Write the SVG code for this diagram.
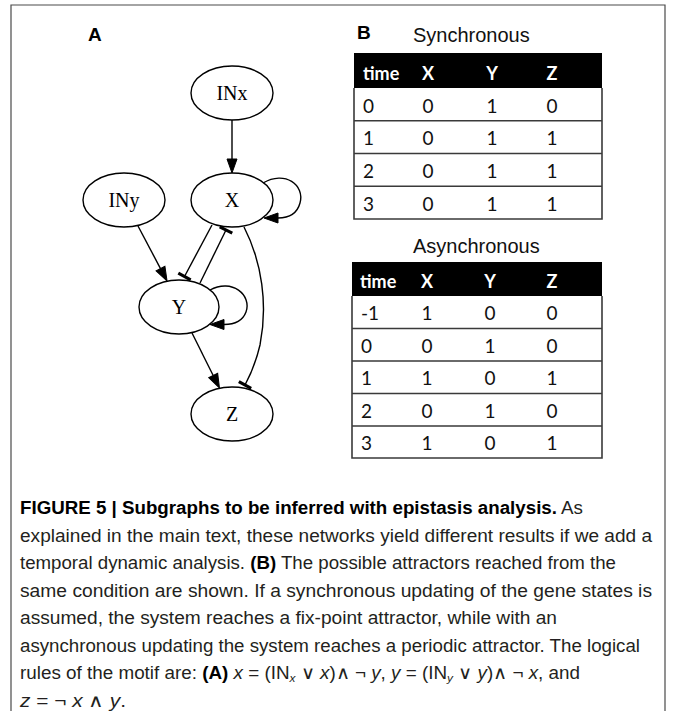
<svg xmlns="http://www.w3.org/2000/svg" width="673" height="711" viewBox="0 0 673 711">
  <style>
    .node ellipse { fill: #ffffff; stroke: #000000; stroke-width: 1.4; }
    .node text { font-family: "Liberation Serif", "Times New Roman", serif; font-size: 20px; text-anchor: middle; fill: #000000; }
    .edge { fill: none; stroke: #000000; stroke-width: 1.4; }
    .panel { font-family: "Liberation Sans", Arial, sans-serif; font-weight: bold; font-size: 19px; fill: #000000; }
    .title { font-family: "Liberation Sans", Arial, sans-serif; font-size: 20px; fill: #111111; }
    .hdr { fill: #000000; }
    .th { font-family: Lato, "Open Sans", sans-serif; font-weight: bold; font-size: 18px; fill: #ffffff; }
    .td { font-family: Lato, "Open Sans", sans-serif; font-size: 19px; fill: #111111; }
    .c { text-anchor: middle; }
    .grid { stroke: #3a3a3a; stroke-width: 1.6; fill: none; }
    .cap { font-family: "Liberation Sans", Arial, sans-serif; font-size: 17.5px; fill: #231f20; }
    .b { font-weight: bold; fill: #000000; }
    .i { font-style: italic; }
  </style>
  <defs>
    <marker id="arrow" markerUnits="userSpaceOnUse" markerWidth="16" markerHeight="12" refX="0" refY="0" viewBox="0 -6 15 12" orient="auto" overflow="visible">
      <path d="M0,-5 L14,0 L0,5 Z" fill="#000000" stroke="#000000" stroke-width="1"/>
    </marker>
    <marker id="tee" markerUnits="userSpaceOnUse" markerWidth="6" markerHeight="16" refX="0" refY="0" viewBox="-3 -8 6 16" orient="auto" overflow="visible">
      <path d="M0,-7 L0,7" stroke="#000000" stroke-width="3.2" fill="none"/>
    </marker>
  </defs>

  <!-- frame -->
  <path d="M11,711 L11,5 L665,5 L665,711" fill="none" stroke="#4a4a4a" stroke-width="1.2"/>

  <!-- panel letters -->
  <text class="panel" x="88" y="41">A</text>
  <text class="panel" x="357" y="39">B</text>

  <!-- connectors -->
  <g id="connectors">
    <path class="edge" d="M232,120 L232,159" marker-end="url(#arrow)"/>
    <path class="edge" d="M263,183 C285,170 305,185 300,203 C297,214 289,218 278,218" marker-end="url(#arrow)"/>
    <path class="edge" d="M138,226 L160.5,268.6" marker-end="url(#arrow)"/>
    <path class="edge" d="M212,225 L184.5,276.5" marker-end="url(#tee)"/>
    <path class="edge" d="M200,283 L226,230" marker-end="url(#tee)"/>
    <path class="edge" d="M244,227 C262,262 268,305 260,345 C256,362 251,374 245,385" marker-end="url(#tee)"/>
    <path class="edge" d="M210,290 C232,278 252,295 246,312 C243,320 235,324.5 224,324.5" marker-end="url(#arrow)"/>
    <path class="edge" d="M192,333 L213.2,375.5" marker-end="url(#arrow)"/>
  </g>

  <!-- nodes -->
  <g id="INx" class="node">
    <ellipse cx="232" cy="93" rx="41" ry="27"/>
    <text x="232" y="100">INx</text>
  </g>
  <g id="X" class="node">
    <ellipse cx="232" cy="200" rx="41" ry="27"/>
    <text x="232" y="207">X</text>
  </g>
  <g id="INy" class="node">
    <ellipse cx="124" cy="200" rx="41" ry="27"/>
    <text x="124" y="207">INy</text>
  </g>
  <g id="Y" class="node">
    <ellipse cx="179" cy="307" rx="40" ry="27"/>
    <text x="179" y="314">Y</text>
  </g>
  <g id="Z" class="node">
    <ellipse cx="232" cy="414" rx="41" ry="27"/>
    <text x="232" y="421">Z</text>
  </g>

  <!-- synchronous table -->
  <g id="sync-table">
    <text class="title" x="413" y="42">Synchronous</text>
    <rect class="hdr" x="354" y="53" width="248" height="35"/>
    <path class="grid" d="M354,88 L354,219 L602,219 L602,88 M354,120.75 L602,120.75 M354,153.5 L602,153.5 M354,186.25 L602,186.25"/>
    <text class="th" x="363" y="80">time</text>
    <text class="th c" x="428" y="80">X</text>
    <text class="th c" x="492" y="80">Y</text>
    <text class="th c" x="552" y="80">Z</text>
    <text class="td" x="363" y="112.5">0</text><text class="td c" x="428" y="112.5">0</text><text class="td c" x="492" y="112.5">1</text><text class="td c" x="552" y="112.5">0</text>
    <text class="td" x="363" y="145.25">1</text><text class="td c" x="428" y="145.25">0</text><text class="td c" x="492" y="145.25">1</text><text class="td c" x="552" y="145.25">1</text>
    <text class="td" x="363" y="178">2</text><text class="td c" x="428" y="178">0</text><text class="td c" x="492" y="178">1</text><text class="td c" x="552" y="178">1</text>
    <text class="td" x="363" y="210.75">3</text><text class="td c" x="428" y="210.75">0</text><text class="td c" x="492" y="210.75">1</text><text class="td c" x="552" y="210.75">1</text>
  </g>

  <!-- asynchronous table -->
  <g id="async-table">
    <text class="title" x="413" y="253">Asynchronous</text>
    <rect class="hdr" x="352" y="262" width="250" height="34"/>
    <path class="grid" d="M352,296 L352,458 L602,458 L602,296 M352,328.5 L602,328.5 M352,361 L602,361 M352,393.5 L602,393.5 M352,426 L602,426"/>
    <text class="th" x="360" y="288">time</text>
    <text class="th c" x="427" y="288">X</text>
    <text class="th c" x="490" y="288">Y</text>
    <text class="th c" x="552" y="288">Z</text>
    <text class="td" x="361" y="320">-1</text><text class="td c" x="427" y="320">1</text><text class="td c" x="490" y="320">0</text><text class="td c" x="552" y="320">0</text>
    <text class="td" x="361" y="352.5">0</text><text class="td c" x="427" y="352.5">0</text><text class="td c" x="490" y="352.5">1</text><text class="td c" x="552" y="352.5">0</text>
    <text class="td" x="361" y="385">1</text><text class="td c" x="427" y="385">1</text><text class="td c" x="490" y="385">0</text><text class="td c" x="552" y="385">1</text>
    <text class="td" x="361" y="417.5">2</text><text class="td c" x="427" y="417.5">0</text><text class="td c" x="490" y="417.5">1</text><text class="td c" x="552" y="417.5">0</text>
    <text class="td" x="361" y="450">3</text><text class="td c" x="427" y="450">1</text><text class="td c" x="490" y="450">0</text><text class="td c" x="552" y="450">1</text>
  </g>

  <!-- caption -->
  <g id="caption" class="cap">
    <text x="20" y="514" textLength="563" lengthAdjust="spacingAndGlyphs"><tspan class="b">FIGURE 5 | Subgraphs to be inferred with epistasis analysis.</tspan> As</text>
    <text x="20" y="541.5" textLength="632" lengthAdjust="spacingAndGlyphs">explained in the main text, these networks yield different results if we add a</text>
    <text x="20" y="569" textLength="596" lengthAdjust="spacingAndGlyphs">temporal dynamic analysis. <tspan class="b">(B)</tspan> The possible attractors reached from the</text>
    <text x="20" y="596.5" textLength="632" lengthAdjust="spacingAndGlyphs">same condition are shown. If a synchronous updating of the gene states is</text>
    <text x="20" y="624" textLength="537" lengthAdjust="spacingAndGlyphs">assumed, the system reaches a fix-point attractor, while with an</text>
    <text x="20" y="651.5" textLength="620" lengthAdjust="spacingAndGlyphs">asynchronous updating the system reaches a periodic attractor. The logical</text>
    <text x="20" y="679" textLength="560" lengthAdjust="spacingAndGlyphs">rules of the motif are: <tspan class="b">(A)</tspan> <tspan class="i">x</tspan> = (IN<tspan class="i" font-size="11" dy="3">x</tspan><tspan dy="-3"> ∨ </tspan><tspan class="i">x</tspan>)∧ ¬ <tspan class="i">y</tspan>, <tspan class="i">y</tspan> = (IN<tspan class="i" font-size="11" dy="3">y</tspan><tspan dy="-3"> ∨ </tspan><tspan class="i">y</tspan>)∧ ¬ <tspan class="i">x</tspan>, and</text>
    <text x="20" y="706.5" textLength="106" lengthAdjust="spacingAndGlyphs"><tspan class="i">z</tspan> = ¬ <tspan class="i">x</tspan> ∧ <tspan class="i">y</tspan>.</text>
  </g>
</svg>
